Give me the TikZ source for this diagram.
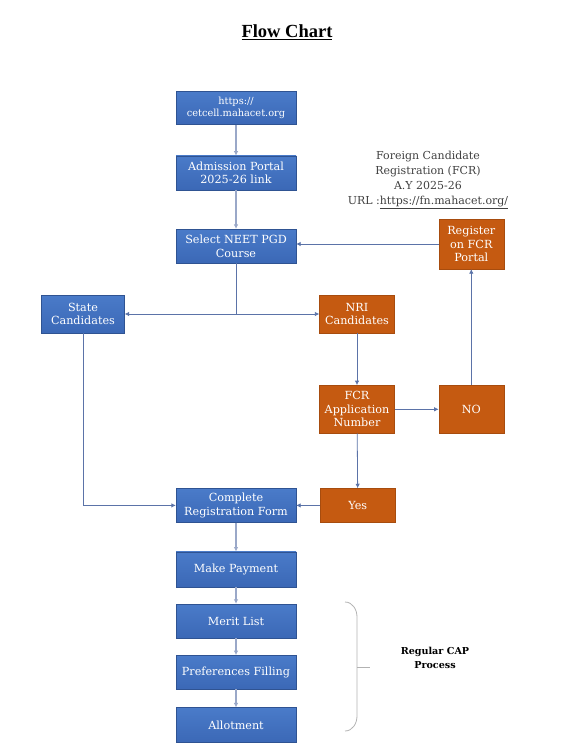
\documentclass[tikz,border=0pt]{standalone}
\usepackage{fontspec}
\setmainfont{DejaVu Serif}
\newfontfamily\titlefont{Liberation Serif}
\usetikzlibrary{arrows.meta, positioning}
\definecolor{boxblue}{HTML}{3B68B6}
\definecolor{boxbluetop}{HTML}{4A7BC9}
\definecolor{boxorange}{HTML}{C55A11}
\definecolor{linkblue}{HTML}{5B73A8}
\definecolor{stemgray}{HTML}{9AA8C8}
\definecolor{infogray}{HTML}{404040}

\begin{document}
\begin{tikzpicture}[>={Latex[length=4.5pt,width=4.5pt]}, x=1pt, y=1pt,
  box/.style={align=center, text=white, inner sep=2pt, font=\fontsize{11.2}{13.6}\selectfont, minimum width=120pt, minimum height=34pt},
  bluebox/.style={box, top color=boxbluetop, bottom color=boxblue, draw=boxblue!80!black, line width=0.3pt},
  orangebox/.style={box, fill=boxorange, draw=boxorange!85!black, line width=0.3pt, minimum width=75pt},
  stem/.style={->, stemgray, line width=1.4pt},
  link/.style={->, linkblue, line width=0.8pt}]
\useasboundingbox (0,0) rectangle (581,-750);
\node[font=\titlefont\bfseries\fontsize{18.5}{20}\selectfont] (title) at (287,-32) {\underline{Flow Chart}};
% main column
\node[bluebox, font=\fontsize{9.8}{11.5}\selectfont, minimum height=33pt] (url) at (236,-108) {https://\\cetcell.mahacet.org};
\node[bluebox, below=31pt of url] (adm) {Admission Portal\\2025-26 link};
\node[bluebox, below=39pt of adm] (sel) {Select NEET PGD\\Course};
\node[bluebox, below=225pt of sel] (comp) {Complete\\Registration Form};
\node[bluebox, below=29pt of comp, minimum height=35pt] (pay) {Make Payment};
\node[bluebox, below=17pt of pay] (merit) {Merit List};
\node[bluebox, below=17pt of merit] (pref) {Preferences Filling};
\node[bluebox, below=18pt of pref, minimum height=35pt] (allot) {Allotment};
% candidate branches
\node[bluebox, minimum width=83pt, minimum height=38pt] (state) at (83,-314) {State\\Candidates};
\node[orangebox, minimum height=38pt] (nri) at (357,-314) {NRI\\Candidates};
\node[orangebox, below=52pt of nri, minimum height=48pt] (fcr) {FCR\\Application\\Number};
\node[orangebox, right=44pt of fcr, minimum width=65pt, minimum height=48pt] (no) {NO};
\node[orangebox, above=116pt of no, minimum width=65pt, minimum height=50pt] (reg) {Register\\on FCR\\Portal};
\node[orangebox, right=24pt of comp] (yes) {Yes};
\node[align=center, text=infogray, font=\fontsize{11}{15}\selectfont] (info) at (428,-180) {Foreign Candidate\\Registration (FCR)\\A.Y 2025-26\\URL :\underline{https://fn.mahacet.org/}};
\coordinate (split) at (sel.south |- state);
% connectors
\draw[stem] (url) -- (adm);
\draw[stem] (adm) -- (sel);
\draw[linkblue, line width=0.8pt] (sel) -- (split);
\draw[link] (split) -- (state);
\draw[link] (split) -- (nri);
\draw[link] (nri) -- (fcr);
\draw[link] (fcr) -- (no);
\draw[link] (no) -- (reg);
\draw[link] (reg) -- (reg -| sel.east);
\draw[link] (fcr) -- (yes);
\draw[link] (yes) -- (comp);
\draw[link] (state) |- (comp);
\draw[stem] (comp) -- (pay);
\draw[stem] (pay) -- (merit);
\draw[stem] (merit) -- (pref);
\draw[stem] (pref) -- (allot);
% bracket for the CAP rounds
\coordinate (brtop) at (345,-602);
\coordinate (brbot) at (345,-731);
\draw[gray!60, line width=0.8pt] (brtop) to[out=0, in=90] (357,-617) -- (357,-716) to[out=-90, in=0] (brbot);
\draw[gray!60, line width=0.8pt] (357,-667) -- (370,-667);
\node[align=center, font=\bfseries\fontsize{9.6}{14}\selectfont] (cap) at (435,-658) {Regular CAP\\Process};
\end{tikzpicture}
\end{document}
